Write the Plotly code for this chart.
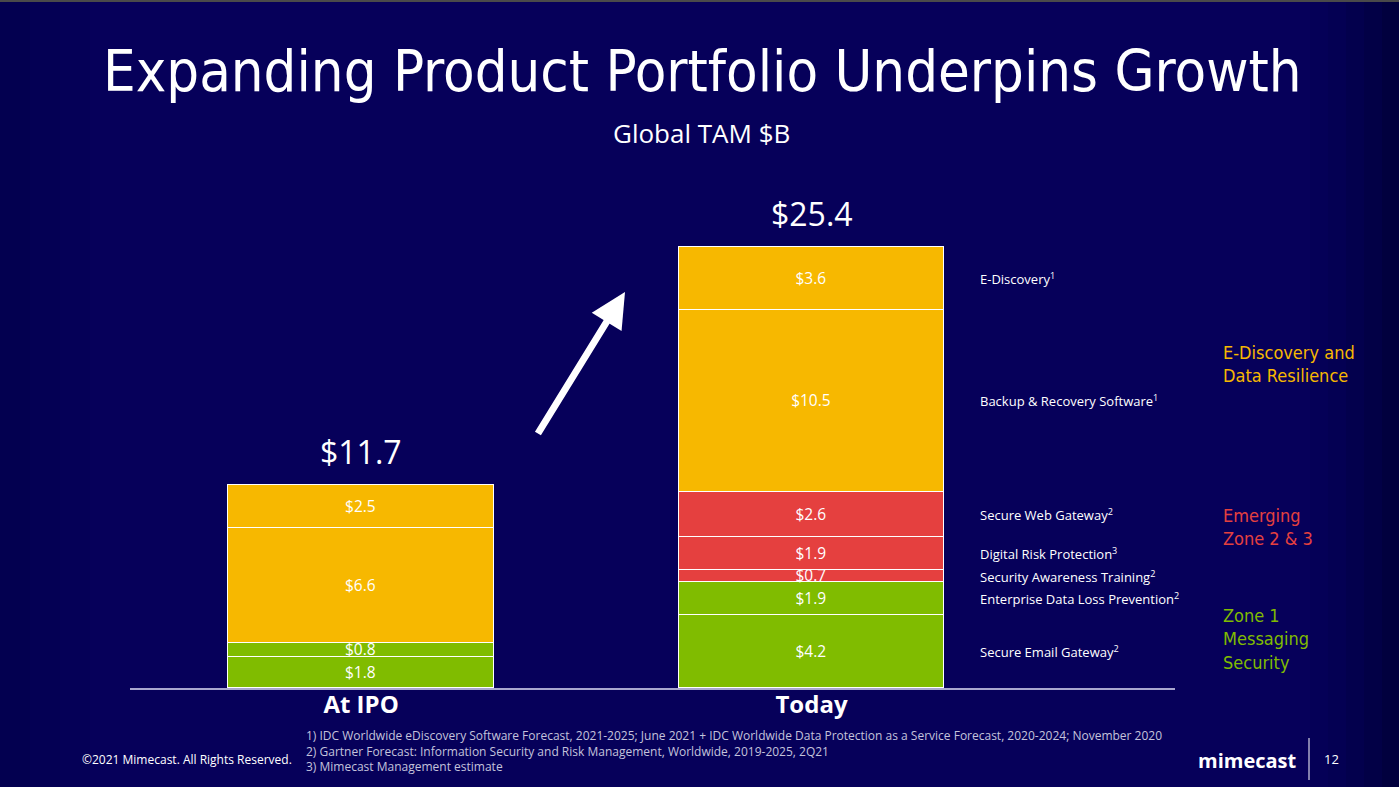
import plotly.graph_objects as go

# ---------------- data ----------------
categories = ["At IPO", "Today"]
secure_email_gateway = [1.8, 4.2]
enterprise_dlp = [0.8, 1.9]
security_awareness = [None, 0.7]
digital_risk = [None, 1.9]
secure_web_gateway = [None, 2.6]
backup_recovery = [6.6, 10.5]
ediscovery = [2.5, 3.6]
totals = [11.7, 25.4]

segment_names = [
    "Secure Email Gateway<sup>2</sup>",
    "Enterprise Data Loss Prevention<sup>2</sup>",
    "Security Awareness Training<sup>2</sup>",
    "Digital Risk Protection<sup>3</sup>",
    "Secure Web Gateway<sup>2</sup>",
    "Backup & Recovery Software<sup>1</sup>",
    "E-Discovery<sup>1</sup>",
]
series = [secure_email_gateway, enterprise_dlp, security_awareness,
          digital_risk, secure_web_gateway, backup_recovery, ediscovery]

GREEN = "#80BC00"
RED = "#E5403F"
ORANGE = "#F7B800"
colors = [GREEN, GREEN, RED, RED, RED, ORANGE, ORANGE]

BG = "#06005A"
W, H = 1399, 787
L, R, T, B = 130, 224, 100, 99
PW, PH = W - L - R, H - T - B

def px_x(px):
    return (px - L) / PW

def px_y(py):
    return (H - B - py) / PH

TITLE_FONT = "DejaVu Sans Condensed, DejaVu Sans, Open Sans"
BODY_FONT = "Open Sans, Noto Sans, sans-serif"

fig = go.Figure()
for name, vals, col in zip(segment_names, series, colors):
    fig.add_trace(go.Bar(
        x=categories, y=vals, name=name,
        marker=dict(color=col, line=dict(color="white", width=1.2)),
        width=0.59,
        texttemplate="$%{y:.1f}",
        textposition="inside", insidetextanchor="middle",
        textfont=dict(color="white", size=15.5, family=BODY_FONT),
        hoverinfo="skip",
    ))

annotations = []
# totals above bars
for c, t in zip(categories, totals):
    annotations.append(dict(x=c, y=t, xref="x", yref="y", text=f"${t}",
                            showarrow=False, yanchor="bottom", yshift=10,
                            font=dict(color="white", size=32, family=BODY_FONT)))

# segment names to the right of the Today bar
cum = 0.0
for name, vals in zip(segment_names, series):
    v = vals[1]
    mid = cum + v / 2
    cum += v
    annotations.append(dict(x=px_x(978), y=mid, xref="paper", yref="y", text=name,
                            showarrow=False, xanchor="left", yanchor="middle",
                            font=dict(color="white", size=13, family=BODY_FONT)))

# group labels
groups = [
    ("E-Discovery and<br>Data Resilience", ORANGE, 364),
    ("Emerging<br>Zone 2 & 3", RED, 527),
    ("Zone 1<br>Messaging<br>Security", GREEN, 639),
]
for txt, col, py in groups:
    annotations.append(dict(x=px_x(1221), y=px_y(py), xref="paper", yref="paper",
                            text=txt, showarrow=False, xanchor="left", yanchor="middle",
                            align="left",
                            font=dict(color=col, size=18, family=TITLE_FONT)))

# title & subtitle
annotations.append(dict(x=px_x(702), y=px_y(72), xref="paper", yref="paper",
                        text="Expanding Product Portfolio Underpins Growth",
                        showarrow=False, xanchor="center", yanchor="middle",
                        font=dict(color="white", size=57.5, family=TITLE_FONT)))
annotations.append(dict(x=px_x(701), y=px_y(133), xref="paper", yref="paper",
                        text="Global TAM $B", showarrow=False,
                        xanchor="center", yanchor="middle",
                        font=dict(color="white", size=26, family=BODY_FONT)))

# growth arrow
annotations.append(dict(x=px_x(625), y=px_y(292), xref="paper", yref="paper",
                        ax=-88, ay=143, axref="pixel", ayref="pixel",
                        text="", showarrow=True, arrowhead=2, arrowsize=1.0,
                        arrowwidth=7, arrowcolor="white"))

# footnotes
foot = ("1) IDC Worldwide eDiscovery Software Forecast, 2021-2025; June 2021 + IDC Worldwide Data Protection as a Service Forecast, 2020-2024; November 2020<br>"
        "2) Gartner Forecast: Information Security and Risk Management, Worldwide, 2019-2025, 2Q21<br>"
        "3) Mimecast Management estimate")
annotations.append(dict(x=px_x(304), y=px_y(725), xref="paper", yref="paper",
                        text=foot, showarrow=False, xanchor="left", yanchor="top",
                        align="left",
                        font=dict(color="#C4C3DC", size=12, family=BODY_FONT)))
annotations.append(dict(x=px_x(294), y=px_y(759), xref="paper", yref="paper",
                        text="©2021 Mimecast. All Rights Reserved.", showarrow=False,
                        xanchor="right", yanchor="middle",
                        font=dict(color="white", size=12, family=BODY_FONT)))
annotations.append(dict(x=px_x(1299), y=px_y(760), xref="paper", yref="paper",
                        text="<b>mimecast</b>", showarrow=False,
                        xanchor="right", yanchor="middle",
                        font=dict(color="white", size=20, family=BODY_FONT)))
annotations.append(dict(x=px_x(1331), y=px_y(759), xref="paper", yref="paper",
                        text="12", showarrow=False, xanchor="center", yanchor="middle",
                        font=dict(color="white", size=13, family=BODY_FONT)))

shapes = [
    # top gray strip
    dict(type="rect", xref="paper", yref="paper", x0=px_x(0), x1=px_x(W),
         y0=px_y(0), y1=px_y(2), fillcolor="#4A4A4A", line=dict(width=0), layer="below"),
    # logo separator
    dict(type="line", xref="paper", yref="paper", x0=px_x(1309), x1=px_x(1309),
         y0=px_y(738), y1=px_y(780), line=dict(color="white", width=1)),
]
# subtle edge darkening
for i, a in enumerate([0.05, 0.1, 0.15, 0.22, 0.3]):
    x0 = 1310 + i * 18
    shapes.append(dict(type="rect", xref="paper", yref="paper", x0=px_x(x0), x1=px_x(W),
                       y0=px_y(H), y1=px_y(2), fillcolor=f"rgba(0,0,20,{a/2})",
                       line=dict(width=0), layer="below"))
for i, a in enumerate([0.05, 0.08, 0.12]):
    x1 = 90 - i * 30
    shapes.append(dict(type="rect", xref="paper", yref="paper", x0=px_x(0), x1=px_x(x1),
                       y0=px_y(H), y1=px_y(2), fillcolor=f"rgba(0,0,20,{a/2})",
                       line=dict(width=0), layer="below"))

fig.update_layout(
    width=W, height=H,
    margin=dict(l=L, r=R, t=T, b=B),
    paper_bgcolor=BG, plot_bgcolor=BG,
    barmode="stack", showlegend=False, bargap=0,
    uniformtext=dict(minsize=14, mode="show"),
    annotations=annotations, shapes=shapes,
    xaxis=dict(range=[-0.513, 1.807], showgrid=False, zeroline=False,
               showline=True, linecolor="#A9A7CF", linewidth=2,
               ticks="", ticklabelstandoff=-6,
               tickfont=dict(color="white", size=24, family=BODY_FONT, weight="bold")),
    yaxis=dict(range=[0, PH / 17.36], visible=False, showgrid=False, zeroline=False),
)

fig.write_html("out.html", config={"displayModeBar": False},
               post_script="document.body.style.margin='0';document.body.style.background='%s';" % BG)
